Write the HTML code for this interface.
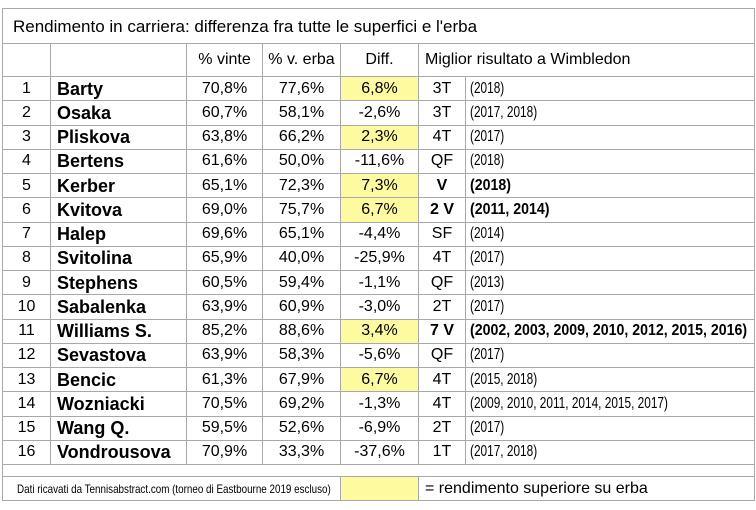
<!DOCTYPE html>
<html><head><meta charset="utf-8"><style>
body{margin:0;background:#fff;width:756px;height:510px;overflow:hidden;font-family:"Liberation Sans",Arial,sans-serif;color:#000}
table{position:absolute;left:2px;top:8px;border-collapse:collapse;table-layout:fixed;width:752px}
td{border:1px solid #a8a8a8;padding:0;font-size:16px;white-space:nowrap;overflow:hidden;line-height:1}
.c{text-align:center}
.n{font-weight:bold;padding-left:6px;font-size:18px}
.r{text-align:center}
.y{background:#fdfa9f}
.yr{padding-left:4px}
.yr span{display:inline-block;font-size:16px;transform:scaleX(0.74);transform-origin:left center}
.yr b{font-size:16px;display:inline-block;transform:scaleX(0.885);transform-origin:left center}
.b{font-weight:bold}
tr.d td{height:23.25px}
</style></head><body>
<table>
<colgroup><col style="width:48px"><col style="width:136px"><col style="width:76px"><col style="width:78px"><col style="width:78px"><col style="width:47px"><col style="width:289px"></colgroup>
<tr style="height:35px"><td colspan="7" style="font-size:17px;padding-left:10px">Rendimento in carriera: differenza fra tutte le superfici e l'erba</td></tr>
<tr style="height:33px"><td></td><td></td><td class="c">% vinte</td><td class="c">% v. erba</td><td class="c">Diff.</td><td colspan="2" style="padding-left:6px">Miglior risultato a Wimbledon</td></tr>
<tr class="d"><td class="c">1</td><td class="n">Barty</td><td class="c">70,8%</td><td class="c">77,6%</td><td class="c y">6,8%</td><td class="r">3T</td><td class="yr"><span>(2018)</span></td></tr>
<tr class="d"><td class="c">2</td><td class="n">Osaka</td><td class="c">60,7%</td><td class="c">58,1%</td><td class="c">-2,6%</td><td class="r">3T</td><td class="yr"><span>(2017, 2018)</span></td></tr>
<tr class="d"><td class="c">3</td><td class="n">Pliskova</td><td class="c">63,8%</td><td class="c">66,2%</td><td class="c y">2,3%</td><td class="r">4T</td><td class="yr"><span>(2017)</span></td></tr>
<tr class="d"><td class="c">4</td><td class="n">Bertens</td><td class="c">61,6%</td><td class="c">50,0%</td><td class="c">-11,6%</td><td class="r">QF</td><td class="yr"><span>(2018)</span></td></tr>
<tr class="d"><td class="c">5</td><td class="n">Kerber</td><td class="c">65,1%</td><td class="c">72,3%</td><td class="c y">7,3%</td><td class="r b">V</td><td class="yr"><b>(2018)</b></td></tr>
<tr class="d"><td class="c">6</td><td class="n">Kvitova</td><td class="c">69,0%</td><td class="c">75,7%</td><td class="c y">6,7%</td><td class="r b">2 V</td><td class="yr"><b>(2011, 2014)</b></td></tr>
<tr class="d"><td class="c">7</td><td class="n">Halep</td><td class="c">69,6%</td><td class="c">65,1%</td><td class="c">-4,4%</td><td class="r">SF</td><td class="yr"><span>(2014)</span></td></tr>
<tr class="d"><td class="c">8</td><td class="n">Svitolina</td><td class="c">65,9%</td><td class="c">40,0%</td><td class="c">-25,9%</td><td class="r">4T</td><td class="yr"><span>(2017)</span></td></tr>
<tr class="d"><td class="c">9</td><td class="n">Stephens</td><td class="c">60,5%</td><td class="c">59,4%</td><td class="c">-1,1%</td><td class="r">QF</td><td class="yr"><span>(2013)</span></td></tr>
<tr class="d"><td class="c">10</td><td class="n">Sabalenka</td><td class="c">63,9%</td><td class="c">60,9%</td><td class="c">-3,0%</td><td class="r">2T</td><td class="yr"><span>(2017)</span></td></tr>
<tr class="d"><td class="c">11</td><td class="n">Williams S.</td><td class="c">85,2%</td><td class="c">88,6%</td><td class="c y">3,4%</td><td class="r b">7 V</td><td class="yr"><b>(2002, 2003, 2009, 2010, 2012, 2015, 2016)</b></td></tr>
<tr class="d"><td class="c">12</td><td class="n">Sevastova</td><td class="c">63,9%</td><td class="c">58,3%</td><td class="c">-5,6%</td><td class="r">QF</td><td class="yr"><span>(2017)</span></td></tr>
<tr class="d"><td class="c">13</td><td class="n">Bencic</td><td class="c">61,3%</td><td class="c">67,9%</td><td class="c y">6,7%</td><td class="r">4T</td><td class="yr"><span>(2015, 2018)</span></td></tr>
<tr class="d"><td class="c">14</td><td class="n">Wozniacki</td><td class="c">70,5%</td><td class="c">69,2%</td><td class="c">-1,3%</td><td class="r">4T</td><td class="yr"><span>(2009, 2010, 2011, 2014, 2015, 2017)</span></td></tr>
<tr class="d"><td class="c">15</td><td class="n">Wang Q.</td><td class="c">59,5%</td><td class="c">52,6%</td><td class="c">-6,9%</td><td class="r">2T</td><td class="yr"><span>(2017)</span></td></tr>
<tr class="d"><td class="c">16</td><td class="n">Vondrousova</td><td class="c">70,9%</td><td class="c">33,3%</td><td class="c">-37,6%</td><td class="r">1T</td><td class="yr"><span>(2017, 2018)</span></td></tr>
<tr style="height:12px"><td colspan="7"></td></tr>
<tr style="height:24px"><td colspan="4" style="padding-left:14px"><span style="display:inline-block;font-size:12px;transform:scaleX(0.82);transform-origin:left center">Dati ricavati da Tennisabstract.com (torneo di Eastbourne 2019 escluso)</span></td><td class="y"></td><td colspan="2" style="padding-left:6px;font-size:16px">= rendimento superiore su erba</td></tr>
</table>
</body></html>
